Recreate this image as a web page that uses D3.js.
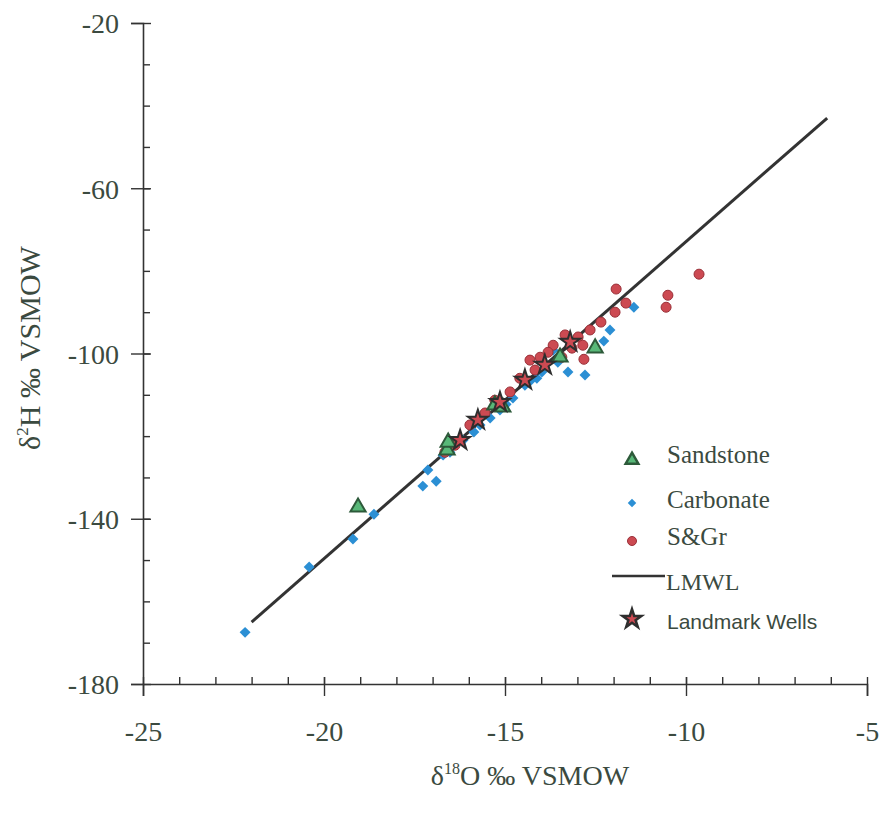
<!DOCTYPE html>
<html>
<head>
<meta charset="utf-8">
<script src="https://cdn.jsdelivr.net/npm/d3@7/dist/d3.min.js"></script>
<style>
  body { margin: 0; background: #fff; }
  text { font-family: "Liberation Serif", "Times New Roman", serif; fill: #3b4a40; }
</style>
</head>
<body>
<div id="chart"></div>
<script>
// tick labels
var xTicks = [-25, -20, -15, -10, -5];
var yTicks = [-20, -60, -100, -140, -180];

// series values [d18O, d2H]
var sandstone = [[-19.06, -137.2], [-16.6, -123.4], [-16.57, -121.5], [-15.28, -112.5],
  [-15.06, -113.0], [-13.48, -100.9], [-12.51, -98.7]];

var carbonate = [[-22.18, -167.5], [-20.41, -151.7], [-19.2, -144.9], [-18.62, -138.9],
  [-17.27, -132.1], [-16.9, -130.9], [-17.13, -128.2], [-16.71, -124.6], [-16.52, -123.9],
  [-16.16, -121.0], [-15.86, -119.0], [-15.69, -117.3], [-15.41, -115.6], [-15.14, -113.7],
  [-14.97, -112.3], [-14.78, -110.8], [-14.45, -107.7], [-14.31, -106.7], [-14.12, -106.0],
  [-13.98, -104.5], [-13.26, -104.5], [-13.54, -102.1], [-13.67, -99.2], [-12.27, -97.0],
  [-12.1, -94.3], [-11.44, -88.8], [-12.79, -105.2]];

var sgr = [[-9.64, -80.8], [-10.5, -85.9], [-10.55, -88.8], [-11.93, -84.4], [-11.66, -87.8],
  [-11.96, -90.0], [-12.35, -92.4], [-12.82, -101.4], [-13.34, -95.5], [-12.98, -96.0],
  [-13.67, -98.0], [-14.03, -100.9], [-13.43, -100.9], [-13.81, -99.7], [-14.31, -101.6],
  [-14.17, -104.0], [-14.59, -106.0], [-14.86, -109.3], [-15.28, -111.3], [-15.55, -114.4],
  [-15.97, -117.3], [-16.38, -122.2], [-16.66, -123.9], [-12.65, -94.3], [-13.15, -98.7],
  [-12.85, -98.0]];

var landmark = [[-14.45, -106.4], [-13.9, -102.8], [-15.14, -111.8], [-15.75, -116.1],
  [-16.24, -121.0], [-13.2, -97.2]];

// LMWL end points
var lmwlX = [-22.0, -6.1];
var lmwlY = [-165.0, -43.0];

var W = 882, H = 815;
var svg = d3.select("#chart").append("svg")
    .attr("width", W)
    .attr("height", H);

var x = d3.scaleLinear().domain([-25, -5]).range([143, 867]);
var y = d3.scaleLinear().domain([-180, -20]).range([684, 23]);

var axisColor = "#333";
var fmt = function(d) { return String(d); }; // plain hyphen like the original

// minor ticks x
var xMinor = svg.append("g")
    .attr("transform", "translate(0," + y(-180) + ")")
    .call(d3.axisBottom(x).tickValues(d3.range(-24, -5, 1)).tickSize(-7).tickFormat(""));
xMinor.select(".domain").remove();

// major x
var xAxis = svg.append("g")
    .attr("transform", "translate(0," + y(-180) + ")")
    .call(d3.axisBottom(x).tickValues(xTicks).tickSize(12).tickFormat(fmt));
xAxis.selectAll(".tick line").attr("y1", -7).attr("y2", 12);
xAxis.selectAll(".tick text")
    .attr("y", 47).attr("dy", "0.35em")
    .style("font-size", "28px");

// minor y
var yMinor = svg.append("g")
    .attr("transform", "translate(" + x(-25) + ",0)")
    .call(d3.axisLeft(y).tickValues(d3.range(-170, -20, 10)).tickSize(-7).tickFormat(""));
yMinor.select(".domain").remove();

var yAxis = svg.append("g")
    .attr("transform", "translate(" + x(-25) + ",0)")
    .call(d3.axisLeft(y).tickValues(yTicks).tickSize(12).tickFormat(fmt));
yAxis.selectAll(".tick line").attr("x1", -12).attr("x2", 8);
yAxis.selectAll(".tick text")
    .attr("x", -24).attr("dy", "0.35em")
    .style("font-size", "28px");

svg.selectAll(".domain").attr("stroke", axisColor).attr("stroke-width", 1.6);
svg.selectAll(".tick line").attr("stroke", axisColor).attr("stroke-width", 1.4);
svg.selectAll(".tick text").attr("fill", "#3b4a40").attr("font-family", "Liberation Serif");

// LMWL
svg.append("line")
    .attr("x1", x(lmwlX[0])).attr("y1", y(lmwlY[0]))
    .attr("x2", x(lmwlX[1])).attr("y2", y(lmwlY[1]))
    .attr("stroke", "#333").attr("stroke-width", 3);

var tri = d3.symbol().type(d3.symbolTriangle).size(100);
var sq = d3.symbol().type(d3.symbolSquare).size(60);
var star = d3.symbol().type(d3.symbolStar).size(120);

svg.append("g").selectAll("path").data(carbonate).enter().append("path")
    .attr("d", sq)
    .attr("transform", function(d) { return "translate(" + x(d[0]) + "," + y(d[1]) + ") rotate(45)"; })
    .attr("fill", "#2b8fd4");

svg.append("g").selectAll("circle").data(sgr).enter().append("circle")
    .attr("cx", function(d) { return x(d[0]); })
    .attr("cy", function(d) { return y(d[1]); })
    .attr("r", 5)
    .attr("fill", "#cc4a52").attr("stroke", "#9a3038").attr("stroke-width", 1);

svg.append("g").selectAll("path").data(sandstone).enter().append("path")
    .attr("d", tri)
    .attr("transform", function(d) { return "translate(" + x(d[0]) + "," + y(d[1]) + ")"; })
    .attr("fill", "#58b878").attr("stroke", "#2d5a3a").attr("stroke-width", 2);

svg.append("g").selectAll("path").data(landmark).enter().append("path")
    .attr("d", star)
    .attr("transform", function(d) { return "translate(" + x(d[0]) + "," + y(d[1]) + ")"; })
    .attr("fill", "#cc4a52").attr("stroke", "#2e2e2e").attr("stroke-width", 2);

// legend
var leg = svg.append("g");
leg.append("path").attr("d", d3.symbol().type(d3.symbolTriangle).size(70))
    .attr("transform", "translate(632,460)")
    .attr("fill", "#58b878").attr("stroke", "#2d5a3a").attr("stroke-width", 2.5);
leg.append("text").attr("x", 667).attr("y", 463).style("font-size", "25px").text("Sandstone");

leg.append("path").attr("d", d3.symbol().type(d3.symbolSquare).size(36))
    .attr("transform", "translate(632,503) rotate(45)")
    .attr("fill", "#2b8fd4");
leg.append("text").attr("x", 667).attr("y", 508).style("font-size", "25px").text("Carbonate");

leg.append("circle").attr("cx", 632).attr("cy", 541).attr("r", 4.5)
    .attr("fill", "#cc4a52").attr("stroke", "#9a3038");
leg.append("text").attr("x", 667).attr("y", 545).style("font-size", "25px").text("S&Gr");

leg.append("line").attr("x1", 612).attr("x2", 665).attr("y1", 576).attr("y2", 576)
    .attr("stroke", "#333").attr("stroke-width", 2.5);
leg.append("text").attr("x", 666).attr("y", 590).style("font-size", "24px").text("LMWL");

leg.append("path").attr("d", d3.symbol().type(d3.symbolStar).size(110))
    .attr("transform", "translate(632,619)")
    .attr("fill", "#cc4a52").attr("stroke", "#2e2e2e").attr("stroke-width", 2.5);
leg.append("text").attr("x", 667).attr("y", 629)
    .style("font-family", "'Liberation Sans', Arial, sans-serif")
    .style("font-size", "21px").text("Landmark Wells");

// axis titles
var xt = svg.append("text")
    .attr("x", 530).attr("y", 785)
    .attr("text-anchor", "middle")
    .style("font-size", "28px");
xt.append("tspan").text("δ");
xt.append("tspan").attr("dy", -11).style("font-size", "16px").text("18");
xt.append("tspan").attr("dy", 11).text("O ‰ VSMOW");

var yt = svg.append("text")
    .attr("transform", "translate(40,348) rotate(-90)")
    .attr("text-anchor", "middle")
    .style("font-size", "30px");
yt.append("tspan").text("δ");
yt.append("tspan").attr("dy", -12).style("font-size", "17px").text("2");
yt.append("tspan").attr("dy", 12).text("H ‰ VSMOW");
</script>
</body>
</html>
